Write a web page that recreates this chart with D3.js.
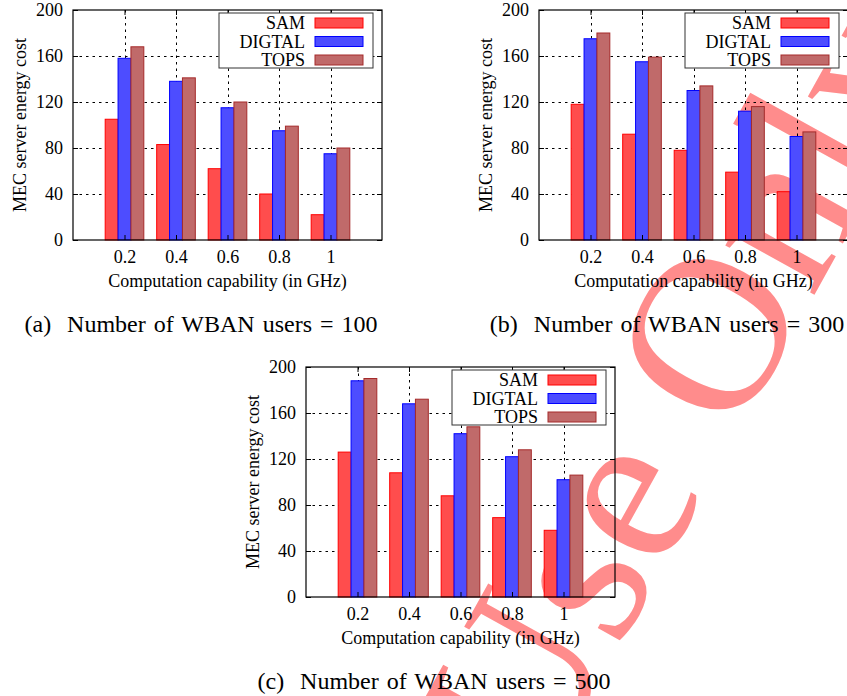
<!DOCTYPE html>
<html>
<head>
<meta charset="utf-8">
<script src="https://cdn.jsdelivr.net/npm/d3@7"></script>
<style>
  html, body { margin: 0; padding: 0; background: #fff; }
  svg { display: block; }
  text { font-family: "Liberation Serif", "Times New Roman", serif; fill: #000; }
</style>
</head>
<body>
<svg id="fig" width="847" height="696"></svg>
<script>
// Computation capability categories (GHz) and the three schemes compared
const categories = ["0.2", "0.4", "0.6", "0.8", "1"];
const seriesNames = ["SAM", "DIGTAL", "TOPS"];
const yTicks = [0, 40, 80, 120, 160, 200];

// MEC server energy cost, 100 WBAN users
const sam100    = [105, 83, 62, 40, 22];
const digtal100 = [158, 138, 115, 95, 75];
const tops100   = [168, 141, 120, 99, 80];

// MEC server energy cost, 300 WBAN users
const sam300    = [118, 92, 78, 59, 42];
const digtal300 = [175, 155, 130, 112, 90];
const tops300   = [180, 159, 134, 116, 94];

// MEC server energy cost, 500 WBAN users
const sam500    = [126, 108, 88, 69, 58];
const digtal500 = [188, 168, 142, 122, 102];
const tops500   = [190, 172, 148, 128, 106];

const panelLabels = ["(a)", "(b)", "(c)"];
const userCounts = [100, 300, 500];

// ---- styling / layout ----
const fills   = ["#ff4d4d", "#4d4dff", "#c06a6a"];
const strokes = ["#ff0000", "#0000ff", "#a52a2a"];
const PW = 309, PH = 230;
const panels = [
  { left: 73,  top: 10,  values: [sam100, digtal100, tops100], capX: 201, capY: 332 },
  { left: 539, top: 10,  values: [sam300, digtal300, tops300], capX: 667, capY: 332 },
  { left: 306, top: 367, values: [sam500, digtal500, tops500], capX: 434, capY: 689 }
];

const svg = d3.select("#fig");

// watermark, sits underneath the figure
svg.append("text")
  .attr("transform", "translate(540,790) rotate(-61)")
  .attr("font-size", 222)
  .style("fill", "#ff8c8c")
  .text("Use Only");

panels.forEach((p, pi) => {
  const g = svg.append("g").attr("transform", `translate(${p.left},${p.top})`);
  const x = d3.scaleLinear().domain([-1, 5]).range([0, PW]);
  const y = d3.scaleLinear().domain([0, 200]).range([PH, 0]);
  const barW = x(0.25) - x(0);

  // grid
  const grid = g.append("g").attr("stroke", "#000").attr("stroke-width", 1)
    .attr("stroke-dasharray", "2.5,4");
  grid.selectAll("line.h").data(yTicks.slice(1, -1)).join("line")
    .attr("x1", 0).attr("x2", PW)
    .attr("y1", d => Math.round(y(d)) + 0.5).attr("y2", d => Math.round(y(d)) + 0.5);
  grid.selectAll("line.v").data(categories).join("line")
    .attr("x1", (d, i) => Math.round(x(i)) + 0.5).attr("x2", (d, i) => Math.round(x(i)) + 0.5)
    .attr("y1", 0).attr("y2", PH);

  // bars
  p.values.forEach((vals, si) => {
    g.append("g").selectAll("rect").data(vals).join("rect")
      .attr("x", (d, i) => x(i + (si - 1) * 0.25 - 0.125))
      .attr("y", d => y(d))
      .attr("width", barW)
      .attr("height", d => y(0) - y(d))
      .attr("fill", fills[si])
      .attr("stroke", strokes[si])
      .attr("stroke-width", 1);
  });

  // axes
  const yAxis = d3.axisLeft(y).tickValues(yTicks).tickSize(-5).tickPadding(10);
  const xAxis = d3.axisBottom(x).tickValues(d3.range(categories.length))
    .tickFormat(i => categories[i]).tickSize(-5).tickPadding(10);
  const ya = g.append("g").call(yAxis);
  const xa = g.append("g").attr("transform", `translate(0,${PH})`).call(xAxis);
  // mirrored ticks
  g.append("g").attr("transform", `translate(${PW},0)`)
    .call(d3.axisRight(y).tickValues(yTicks).tickSize(-5).tickFormat(""));
  g.append("g").call(d3.axisTop(x).tickValues(d3.range(categories.length)).tickSize(-5).tickFormat(""));
  g.selectAll(".domain").remove();
  g.selectAll(".tick line").attr("stroke", "#000");
  [ya, xa].forEach(a => a.attr("font-family", null).selectAll("text").attr("font-size", 18));

  // frame
  g.append("rect").attr("x", 0).attr("y", 0).attr("width", PW).attr("height", PH)
    .attr("fill", "none").attr("stroke", "#000").attr("stroke-width", 1.2);

  // axis titles
  g.append("text").attr("x", PW / 2).attr("y", PH + 47)
    .attr("text-anchor", "middle").attr("font-size", 18)
    .text("Computation capability (in GHz)");
  g.append("text").attr("transform", `translate(-47,${PH / 2}) rotate(-90)`)
    .attr("text-anchor", "middle").attr("font-size", 18)
    .text("MEC server energy cost");

  // legend
  const lw = 154, lh = 55;
  const lg = g.append("g").attr("transform", `translate(${PW - 9 - lw},3)`);
  lg.append("rect").attr("width", lw).attr("height", lh)
    .attr("fill", "#fff").attr("stroke", "#333").attr("stroke-width", 1);
  seriesNames.forEach((name, si) => {
    const cy = 10 + si * 18.5;
    lg.append("text").attr("x", lw - 68).attr("y", cy + 6)
      .attr("text-anchor", "end").attr("font-size", 18).text(name);
    lg.append("rect").attr("x", lw - 58).attr("y", cy - 5)
      .attr("width", 48).attr("height", 10)
      .attr("fill", fills[si]).attr("stroke", strokes[si]).attr("stroke-width", 1);
  });

  // caption
  svg.append("text").attr("x", p.capX).attr("y", p.capY)
    .attr("text-anchor", "middle").attr("font-size", 24)
    .attr("word-spacing", 2)
    .attr("xml:space", "preserve")
    .text(`${panelLabels[pi]}  Number of WBAN users = ${userCounts[pi]}`);
});
</script>
</body>
</html>
